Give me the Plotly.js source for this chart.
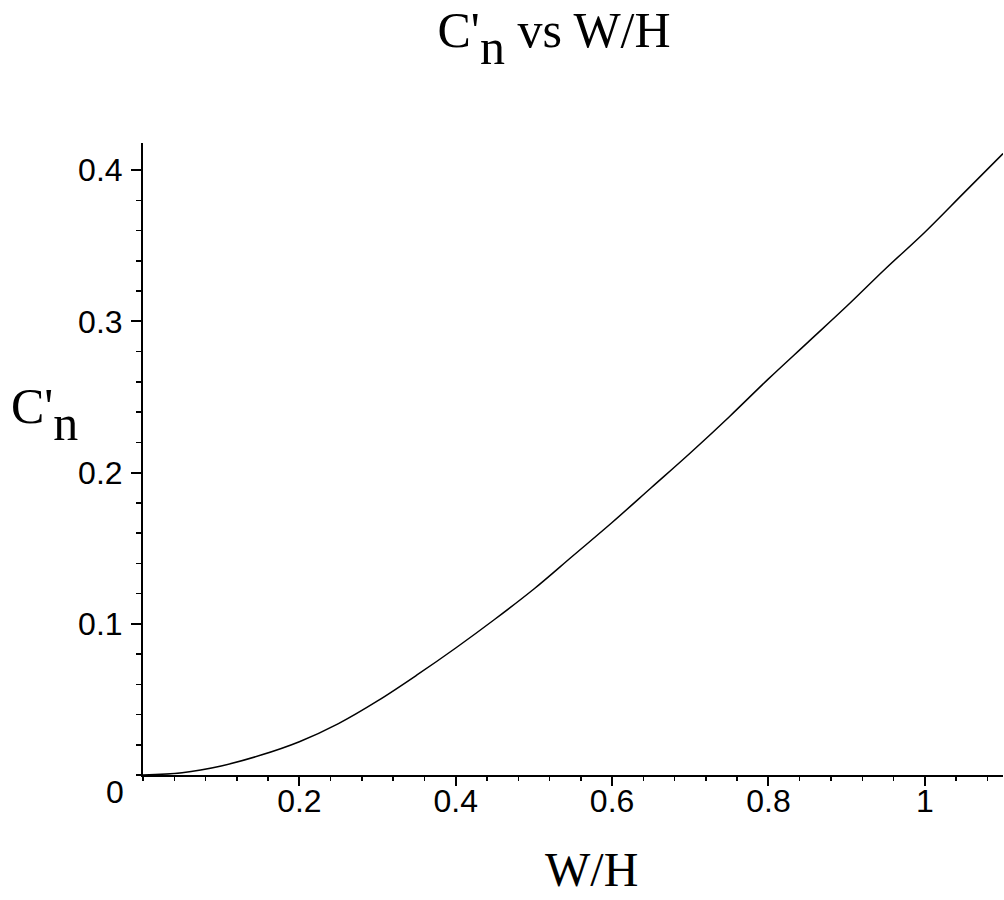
<!DOCTYPE html>
<html>
<head>
<meta charset="utf-8">
<script src="https://cdn.plot.ly/plotly-3.0.1.min.js"></script>
<style>
  html, body { margin: 0; padding: 0; background: #ffffff; }
  #chart { width: 1004px; height: 900px; }
</style>
</head>
<body>
<div id="chart"></div>
<script>
// Data
const widthRatio = [0, 0.05, 0.1, 0.15, 0.2, 0.25, 0.3, 0.35, 0.4, 0.45, 0.5, 0.55, 0.6, 0.65, 0.7, 0.75, 0.8, 0.85, 0.9, 0.95, 1.0, 1.05, 1.1];
const cnValues   = [0, 0.0015, 0.006, 0.013, 0.022, 0.034, 0.049, 0.066, 0.084, 0.103, 0.123, 0.145, 0.167, 0.190, 0.213, 0.237, 0.262, 0.286, 0.310, 0.335, 0.359, 0.385, 0.411];

const xTickVals = [0.2, 0.4, 0.6, 0.8, 1];
const xTickText = ["0.2", "0.4", "0.6", "0.8", "1"];
const yTickVals = [0.1, 0.2, 0.3, 0.4];
const yTickText = ["0.1", "0.2", "0.3", "0.4"];

const titleText = "C'<span style=\"baseline-shift:-0.34em\">n</span> vs W/H";
const yTitleText = "C'<span style=\"baseline-shift:-0.34em\">n</span>";
const xTitleText = "W/H";

const serif = "Liberation Serif, Times New Roman, serif";
const sans = "Liberation Sans, Arial, sans-serif";

const trace = {
  x: widthRatio,
  y: cnValues,
  type: 'scatter',
  mode: 'lines',
  line: { color: '#000000', width: 1.5, shape: 'spline', smoothing: 1 },
  hoverinfo: 'skip',
  showlegend: false
};

const layout = {
  width: 1004,
  height: 900,
  paper_bgcolor: '#ffffff',
  plot_bgcolor: '#ffffff',
  margin: { l: 143, r: 1, t: 143, b: 125, pad: 0 },
  showlegend: false,
  title: {
    text: titleText,
    font: { family: serif, size: 50, color: '#000000' },
    xref: 'paper', x: 0.478, xanchor: 'center',
    yref: 'container', y: 0.948, yanchor: 'bottom'
  },
  xaxis: {
    range: [0, 1.1],
    showgrid: false,
    zeroline: false,
    showline: true, linecolor: '#000000', linewidth: 2,
    ticks: 'outside', ticklen: 9, tickwidth: 2, tickcolor: '#000000',
    tickmode: 'array', tickvals: xTickVals, ticktext: xTickText,
    tickfont: { family: sans, size: 32, color: '#000000' },
    ticklabelstandoff: -12,
    minor: { tickmode: 'linear', tick0: 0, dtick: 0.04, ticks: 'outside', ticklen: 4, tickwidth: 1.5, tickcolor: '#000000', showgrid: false },
    fixedrange: true
  },
  yaxis: {
    range: [0, 0.418],
    showgrid: false,
    zeroline: false,
    showline: true, linecolor: '#000000', linewidth: 2,
    ticks: 'outside', ticklen: 10, tickwidth: 2, tickcolor: '#000000',
    tickmode: 'array', tickvals: yTickVals, ticktext: yTickText,
    tickfont: { family: sans, size: 32, color: '#000000' },
    ticklabelstandoff: 2,
    minor: { tickmode: 'linear', tick0: 0, dtick: 0.02, ticks: 'outside', ticklen: 5, tickwidth: 1.5, tickcolor: '#000000', showgrid: false },
    fixedrange: true
  },
  annotations: [
    {
      text: yTitleText,
      xref: 'paper', x: -0.156, xanchor: 'left',
      yref: 'paper', y: 0.57, yanchor: 'middle',
      showarrow: false,
      font: { family: serif, size: 50, color: '#000000' }
    },
    {
      text: xTitleText,
      xref: 'paper', x: 0.522, xanchor: 'center',
      yref: 'paper', y: -0.150, yanchor: 'middle',
      showarrow: false,
      borderpad: 0,
      font: { family: serif, size: 48, color: '#000000' }
    },
    {
      text: "0",
      xref: 'x', x: 0, xanchor: 'right', xshift: -17,
      yref: 'y', y: 0, yanchor: 'middle', yshift: -17,
      showarrow: false,
      font: { family: sans, size: 32, color: '#000000' }
    }
  ]
};

Plotly.newPlot('chart', [trace], layout, { displayModeBar: false, staticPlot: true });
</script>
</body>
</html>
